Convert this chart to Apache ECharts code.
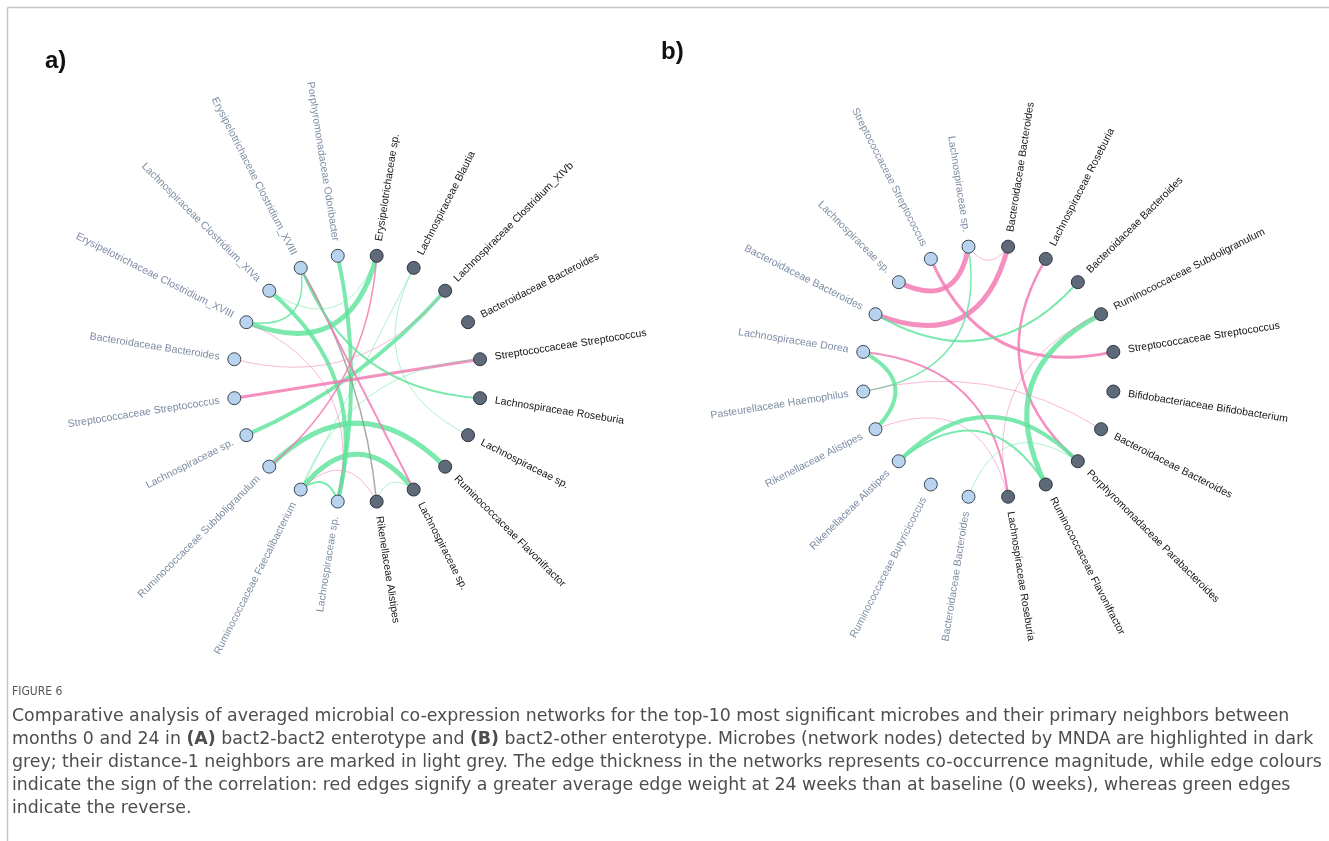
<!DOCTYPE html>
<html>
<head>
<meta charset="utf-8">
<script src="https://cdn.jsdelivr.net/npm/echarts@6/dist/echarts.min.js"></script>
<style>
  html, body { margin: 0; padding: 0; background: #ffffff; }
  #chart { width: 1329px; height: 841px; }
</style>
</head>
<body>
<div id="chart"></div>
<script>
// ---- Network (a): bact2-bact2 enterotype. Nodes run clockwise from just below 3 o'clock.
const nodesA = [
  'Lachnospiraceae Roseburia', 'Lachnospiraceae sp.', 'Ruminococcaceae Flavonifractor',
  'Lachnospiraceae sp.', 'Rikenellaceae Alistipes', 'Lachnospiraceae sp.',
  'Ruminococcaceae Faecalibacterium', 'Ruminococcaceae Subdoligranulum', 'Lachnospiraceae sp.',
  'Streptococcaceae Streptococcus', 'Bacteroidaceae Bacteroides', 'Erysipelotrichaceae Clostridium_XVIII',
  'Lachnospiraceae Clostridium_XIVa', 'Erysipelotrichaceae Clostridium_XVIII', 'Porphyromonadaceae Odoribacter',
  'Erysipelotrichaceae sp.', 'Lachnospiraceae Blautia', 'Lachnospiraceae Clostridium_XIVb',
  'Bacteroidaceae Bacteroides', 'Streptococcaceae Streptococcus'
];
// 1 = detected by MNDA, 0 = distance-1 neighbour
const mndaA = [1, 1, 1, 1, 1, 0, 0, 0, 0, 0, 0, 0, 0, 0, 0, 1, 1, 1, 1, 1];
// [source, target, magnitude, sign]  sign: +1 higher at 24 weeks, -1 higher at baseline, 0 mixed
const edgesA = [
  [7, 2, 5, -1], [6, 3, 5, -1], [6, 5, 2, -1], [6, 4, 1, 1], [4, 3, 1, -1],
  [14, 5, 4, -1], [12, 5, 4, -1], [8, 17, 4, -1], [9, 19, 3, 1], [11, 15, 5, -1],
  [11, 13, 1.5, -1], [12, 15, 1, -1], [10, 17, 1, 1], [15, 7, 1.5, 1], [13, 4, 1.5, 0],
  [13, 3, 2, 1], [16, 1, 1, -1], [16, 6, 1, -1], [11, 5, 1, 1], [13, 0, 2, -1], [19, 6, 1, -1]
];

// ---- Network (b): bact2-other enterotype.
const nodesB = [
  'Bifidobacteriaceae Bifidobacterium', 'Bacteroidaceae Bacteroides', 'Porphyromonadaceae Parabacteroides',
  'Ruminococcaceae Flavonifractor', 'Lachnospiraceae Roseburia', 'Bacteroidaceae Bacteroides',
  'Ruminococcaceae Butyricicoccus', 'Rikenellaceae Alistipes', 'Rikenellaceae Alistipes',
  'Pasteurellaceae Haemophilus', 'Lachnospiraceae Dorea', 'Bacteroidaceae Bacteroides',
  'Lachnospiraceae sp.', 'Streptococcaceae Streptococcus', 'Lachnospiraceae sp.',
  'Bacteroidaceae Bacteroides', 'Lachnospiraceae Roseburia', 'Bacteroidaceae Bacteroides',
  'Ruminococcaceae Subdoligranulum', 'Streptococcaceae Streptococcus'
];
const mndaB = [1, 1, 1, 1, 1, 0, 0, 0, 0, 0, 0, 0, 0, 0, 0, 1, 1, 1, 1, 1];
const edgesB = [
  [12, 14, 5, 1], [15, 11, 5, 1], [14, 15, 1, 1], [13, 19, 3, 1], [14, 9, 1.5, -1],
  [16, 2, 2.5, 1], [11, 17, 2, -1], [18, 3, 5, -1], [18, 4, 1, 1], [10, 8, 4, -1],
  [10, 4, 2, 1], [9, 1, 1, 1], [8, 4, 1, 1], [7, 2, 4, -1], [7, 3, 2, -1], [5, 2, 1, -1]
];

const captionLines = [
  'Comparative analysis of averaged microbial co-expression networks for the top-10 most significant microbes and their primary neighbors between',
  'months 0 and 24 in {b|(A)} bact2-bact2 enterotype and {b|(B)} bact2-other enterotype. Microbes (network nodes) detected by MNDA are highlighted in dark',
  'grey; their distance-1 neighbors are marked in light grey. The edge thickness in the networks represents co-occurrence magnitude, while edge colours',
  'indicate the sign of the correlation: red edges signify a greater average edge weight at 24 weeks than at baseline (0 weeks), whereas green edges',
  'indicate the reverse.'
];

// ---- styling
const EDGE_COLOR = { '1': '#f276b2', '-1': '#5ee49c', '0': '#8f9c8e' };
const LABEL_FONT = 'Liberation Sans, Arial, sans-serif';

function buildNodes(names, mnda, prefix) {
  return names.map((name, i) => {
    const dark = mnda[i] === 1;
    return {
      id: prefix + i,
      name: name,
      symbolSize: 13,
      itemStyle: {
        color: dark ? '#5e6a79' : '#b7d3ef',
        borderColor: dark ? '#2e3540' : '#3d4652',
        borderWidth: 1
      },
      label: { color: dark ? '#141414' : '#7d8ca4' }
    };
  });
}

// Edges bow toward the circle centre; the bow grows with the angular gap.
function buildLinks(edges, count) {
  return edges.map(([s, t, mag, sign]) => {
    const steps = Math.min(Math.abs(s - t), count - Math.abs(s - t));
    const gap = steps * Math.PI * 2 / count;
    return {
      source: s,
      target: t,
      lineStyle: {
        width: mag,
        color: EDGE_COLOR[String(sign)],
        opacity: mag <= 1 ? 0.5 : 0.82,
        curveness: 0.7 * Math.sin(gap / 2) / 1.5
      }
    };
  });
}

function graphSeries(names, mnda, edges, prefix, box) {
  return Object.assign({
    type: 'graph',
    layout: 'circular',
    circular: { rotateLabel: true },
    roam: false,
    silent: true,
    animation: false,
    symbol: 'circle',
    label: {
      show: true,
      position: 'right',
      distance: 8,
      fontFamily: LABEL_FONT,
      fontSize: 10.5,
      formatter: '{b}'
    },
    emphasis: { disabled: true },
    data: buildNodes(names, mnda, prefix),
    links: buildLinks(edges, names.length)
  }, box);
}

// Caption type: size the font so the first (full) line spans the caption width.
const CAPTION_FONT = 'DejaVu Sans';
const CAPTION_WIDTH = 1278;
const measureCtx = document.createElement('canvas').getContext('2d');
measureCtx.font = '17px "DejaVu Sans"';
const captionSize = Math.min(18, 17 * CAPTION_WIDTH / measureCtx.measureText(captionLines[0]).width);

const graphics = [
  { type: 'line', shape: { x1: 7.5, y1: 7.5, x2: 1329, y2: 7.5 }, style: { stroke: '#c6c6c6', lineWidth: 1.5 } },
  { type: 'line', shape: { x1: 7.5, y1: 7.5, x2: 7.5, y2: 841 }, style: { stroke: '#c6c6c6', lineWidth: 1.5 } },
  { type: 'text', x: 45, y: 61, style: { text: 'a)', fontFamily: 'Liberation Sans, Arial', fontSize: 24, fontWeight: 'bold', fill: '#111', verticalAlign: 'middle' } },
  { type: 'text', x: 661, y: 52, style: { text: 'b)', fontFamily: 'Liberation Sans, Arial', fontSize: 24, fontWeight: 'bold', fill: '#111', verticalAlign: 'middle' } },
  { type: 'text', x: 12, y: 692, style: { text: 'FIGURE 6', fontFamily: 'DejaVu Sans Condensed, DejaVu Sans', fontSize: 12, fill: '#555', verticalAlign: 'middle' } }
];
captionLines.forEach((line, i) => {
  graphics.push({
    type: 'text', x: 12, y: 716 + i * 23,
    style: {
      text: line, fontFamily: CAPTION_FONT, fontSize: captionSize, fill: '#4d4d4d', verticalAlign: 'middle',
      rich: { b: { fontFamily: CAPTION_FONT, fontSize: captionSize, fontWeight: 'bold', fill: '#4d4d4d' } }
    }
  });
});

const chart = echarts.init(document.getElementById('chart'), null, { renderer: 'canvas' });
chart.setOption({
  backgroundColor: '#ffffff',
  animation: false,
  series: [
    graphSeries(nodesA, mndaA, edgesA, 'a', { left: 232.8, top: 254.3, width: 248.8, height: 248.8 }),
    graphSeries(nodesB, mndaB, edgesB, 'b', { left: 861.7, top: 245.1, width: 253.2, height: 253.2 })
  ],
  graphic: graphics
});
</script>
</body>
</html>
